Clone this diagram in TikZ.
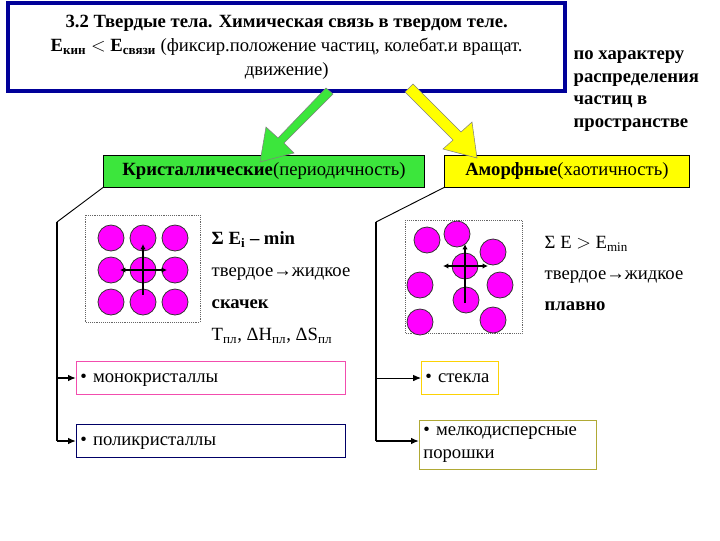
\documentclass[tikz,border=0pt]{standalone}
\usepackage{fontspec}
\setmainfont{Liberation Serif}
\usetikzlibrary{arrows.meta}
\definecolor{ballc}{RGB}{255,0,255}
\definecolor{grn}{RGB}{60,230,60}
\definecolor{ylw}{RGB}{255,255,0}
\begin{document}
\begin{tikzpicture}[x=0.75pt,y=-0.75pt,
  ball/.style={circle,fill=ballc,draw=black!80,line width=0.6pt,minimum size=19.5pt,inner sep=0},
  lbox/.style={draw,inner xsep=3pt,inner ysep=6pt,text height=10pt,text depth=3pt,font=\fontsize{14}{16}\selectfont,align=left},
  conn/.style={line width=1.4pt},
  arr/.style={-{Latex[length=6pt,width=5pt]},line width=1.2pt},
  tiny/.style={{Latex[length=4pt,width=4pt]}-{Latex[length=4pt,width=4pt]},line width=0.9pt}]
\useasboundingbox (0,0) rectangle (720,540);
\node[draw=blue!60!black,line width=3pt,minimum width=418pt,minimum height=66pt,anchor=north west,align=center,font=\fontsize{14}{18}\selectfont] (title) at (6,1)
 {\textbf{3.2 Твердые тела. Химическая связь в твердом теле.}\\
  \textbf{E}\textsubscript{\textbf{кин}} $<$ \textbf{E}\textsubscript{\textbf{связи}} (фиксир.положение  частиц, колебат.и вращат.\\ движение)};
\node[anchor=north west,align=left,font=\bfseries\fontsize{14}{17}\selectfont] (char) at (569,46) {по характеру\\распределения\\частиц в\\пространстве};
\node[draw,fill=grn,minimum width=241pt,minimum height=24pt,anchor=north west,font=\fontsize{14}{16}\selectfont] (cr) at (103,155) {\textbf{Кристаллические}(периодичность)};
\node[draw,fill=ylw,minimum width=184pt,minimum height=24pt,anchor=north west,font=\fontsize{14}{16}\selectfont] (am) at (444,155) {\textbf{Аморфные}(хаотичность)};
\fill[grn,draw=black!50] (326,88) -- (278,138) -- (266,127) -- (260,162) -- (294,153) -- (284,143) -- (333,94) -- cycle;
\fill[ylw,draw=black!50] (405,92) -- (453,140) -- (443,149) -- (477,158) -- (472,122) -- (461,132) -- (413,84) -- cycle;
% lattice left
\draw[densely dotted,black!60] (85,215) rectangle (200,322);
\foreach \i in {111,143,175}\foreach \j in {238,270,302}\node[ball] at (\i,\j) {};
\draw[tiny] (120,270) -- (167,270);
\draw[-{Latex[length=4pt,width=4pt]},line width=0.9pt] (143,295) -- (143,244);
\node[anchor=north west,align=left,font=\fontsize{14}{24}\selectfont] (t1) at (207,227) {\textbf{Σ E\textsubscript{i} – min}\\твердое→жидкое\\\textbf{скачек}\\T\textsubscript{пл}, ΔH\textsubscript{пл}, ΔS\textsubscript{пл}};
% amorphous
\draw[densely dotted,black!60] (405,220) rectangle (522,333);
\foreach \p in {(427,240),(457,234),(493,252),(465,266),(420,285),(500,285),(466,300),(420,322),(493,320)}\node[ball] at \p {};
\draw[tiny] (443,266) -- (488,266);
\draw[-{Latex[length=4pt,width=4pt]},line width=0.9pt] (465,303) -- (465,244);
\node[anchor=north west,align=left,font=\fontsize{14}{23}\selectfont] (t2) at (540,232) {Σ E $>$ E\textsubscript{min}\\твердое→жидкое\\\textbf{плавно}};
% boxes
\node[lbox,draw=magenta!70,text width=196pt,anchor=west] (mono) at (76,378) {• монокристаллы};
\node[lbox,draw=blue!40!black,text width=196pt,anchor=west] (poly) at (76,441) {• поликристаллы};
\node[lbox,draw=yellow!70!orange,text width=52pt,anchor=west] (st) at (421,378) {• стекла};
\node[draw=olive!70,inner xsep=3pt,inner ysep=5pt,font=\fontsize{14}{17}\selectfont,align=left,text width=127pt,anchor=north west] (mel) at (419,420) {• мелкодисперсные\\порошки};
% connectors
\coordinate (l1) at (57,222); \coordinate (r1) at (376,222);
\draw[line width=0.7pt] (cr.south west) -- (l1);
\draw[line width=0.7pt] (am.south west) -- (r1);
\draw[conn] (l1) -- (57,441);
\draw[conn] (r1) -- (376,441);
\draw[arr] (57,378) -- (mono.west);
\draw[arr] (57,441) -- (poly.west);
\draw[arr,line width=0.7pt] (376,378) -- (st.west);
\draw[arr] (376,441) -- (mel.west|-376,441);
\end{tikzpicture}
\end{document}
